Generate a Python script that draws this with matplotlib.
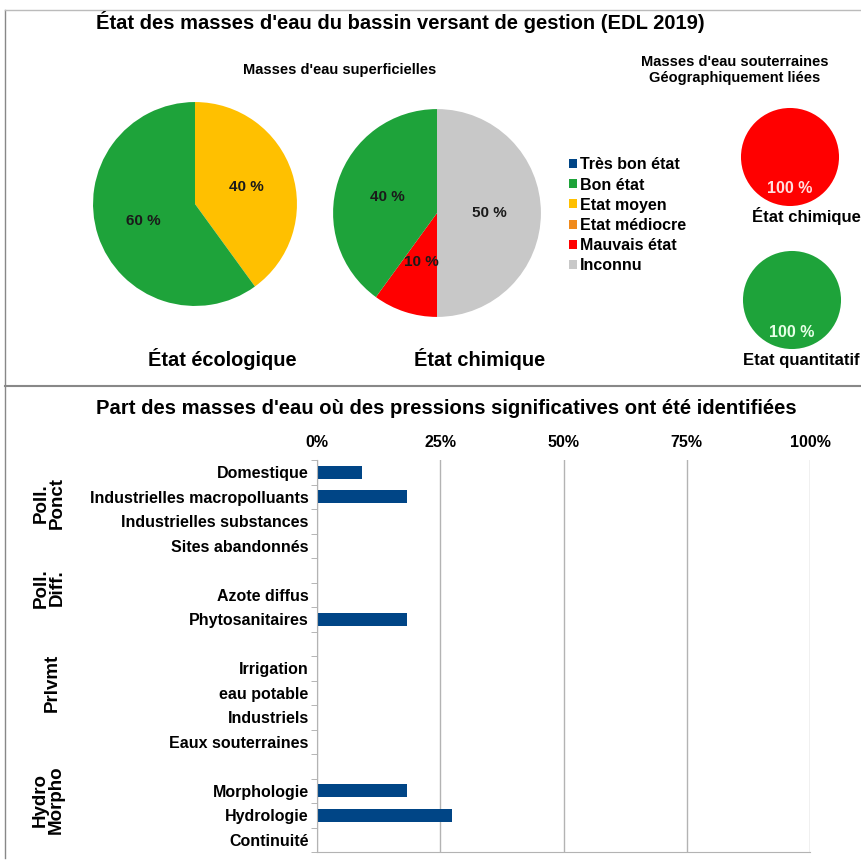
import numpy as np
import matplotlib.pyplot as plt
from matplotlib.patches import Patch
from matplotlib.lines import Line2D

plt.rcParams['font.family'] = ['Liberation Sans', 'DejaVu Sans']
plt.rcParams['font.weight'] = 'bold'

# --- data ---
etat_labels = ['Très bon état', 'Bon état', 'Etat moyen', 'Etat médiocre', 'Mauvais état', 'Inconnu']
etat_colors = ['#004586', '#1ea33a', '#ffc000', '#f08a1c', '#ff0000', '#c8c8c8']

# pies are listed clockwise from 12 o'clock
eco_values = [40, 60]
eco_states = ['Etat moyen', 'Bon état']
chim_values = [50, 10, 40]
chim_states = ['Inconnu', 'Mauvais état', 'Bon état']
sout_chim_values = [100]
sout_chim_states = ['Mauvais état']
sout_quant_values = [100]
sout_quant_states = ['Bon état']

# empty strings are the gaps between groups
pressions = ['Domestique', 'Industrielles macropolluants', 'Industrielles substances',
             'Sites abandonnés', '', 'Azote diffus', 'Phytosanitaires', '',
             'Irrigation', 'eau potable', 'Industriels', 'Eaux souterraines', '',
             'Morphologie', 'Hydrologie', 'Continuité']
pression_values = [9.1, 18.2, 0, 0, 0, 0, 18.2, 0, 0, 0, 0, 0, 0, 18.2, 27.3, 0]
groups = ['Poll.\nPonct', 'Poll.\nDiff.', 'Prlvmt', 'Hydro\nMorpho']

W, H = 862, 861
fig = plt.figure(figsize=(W / 100, H / 100), dpi=100)
col = dict(zip(etat_labels, etat_colors))


def box(x0, y0, x1, y1):
    # pixel box (top-left origin) -> figure fraction rect
    return [x0 / W, 1 - y1 / H, (x1 - x0) / W, (y1 - y0) / H]


def pie(rect, values, states, pct_col='#1a1a1a', pctd=0.5, fs=11):
    ax = fig.add_axes(rect)
    wedges, texts, autotexts = ax.pie(values, colors=[col[s] for s in states], startangle=90,
                                      counterclock=False, autopct='%d %%', pctdistance=pctd,
                                      wedgeprops=dict(linewidth=0))
    for t in autotexts:
        t.set_color(pct_col)
        t.set_fontsize(fs)
        t.set_fontweight('bold')
    ax.set_xlim(-1.02, 1.02)
    ax.set_ylim(-1.02, 1.02)
    ax.set_aspect('equal')
    ax.axis('off')
    return autotexts


pie(box(91, 100, 299, 308), eco_values, eco_states, pctd=0.53)
pie(box(331, 107, 543, 319), chim_values, chim_states, pctd=0.5)
pie(box(740, 107, 840, 207), sout_chim_values, sout_chim_states, pct_col='#ffdede', pctd=0.64, fs=11.5)
pie(box(742, 250, 842, 350), sout_quant_values, sout_quant_states, pct_col='#e6ffe6', pctd=0.66, fs=11.5)

# titles
fig.text(400 / W, 1 - 22 / H, "État des masses d'eau du bassin versant de gestion (EDL 2019)",
         ha='center', va='center', fontsize=14.5, fontweight='bold')
fig.text(340 / W, 1 - 70 / H, "Masses d'eau superficielles", ha='center', va='center', fontsize=10.5)
fig.text(735 / W, 1 - 70 / H, "Masses d'eau souterraines\nGéographiquement liées",
         ha='center', va='center', fontsize=10.5, linespacing=1.25)
fig.text(222 / W, 1 - 359 / H, "État écologique", ha='center', va='center', fontsize=14.4)
fig.text(480 / W, 1 - 359 / H, "État chimique", ha='center', va='center', fontsize=14.4)
fig.text(806 / W, 1 - 216 / H, "État chimique", ha='center', va='center', fontsize=12)
fig.text(743 / W, 1 - 360 / H, "Etat quantitatif", ha='left', va='center', fontsize=12)

handles = [Patch(facecolor=c, edgecolor='none') for c in etat_colors]
fig.legend(handles, etat_labels, loc='upper left', bbox_to_anchor=(563 / W, 1 - 151 / H),
           frameon=False, handlelength=0.5, handleheight=0.5, handletextpad=0.15,
           labelspacing=0.32, prop=dict(size=11.5, weight='bold'), borderaxespad=0)

# frame and divider
fig.add_artist(Line2D([5 / W, 5 / W], [1 - 10 / H, 1 - 858 / H], color='#888888', lw=1))
fig.add_artist(Line2D([5 / W, 1], [1 - 10 / H, 1 - 10 / H], color='#bbbbbb', lw=1))
fig.add_artist(Line2D([5 / W, 1], [1 - 386 / H, 1 - 386 / H], color='#888888', lw=1.5))

# --- bar chart ---
fig.text(446 / W, 1 - 408 / H, "Part des masses d'eau où des pressions significatives ont été identifiées",
         ha='center', va='center', fontsize=14.6)
ax = fig.add_axes(box(317, 460, 810, 852))
rows = np.arange(len(pressions))
ax.barh(rows, pression_values, height=0.55, color='#004586')
ax.set_ylim(len(pressions) - 0.5, -0.5)
ax.set_xlim(0, 100)
ax.set_yticks(rows)
ax.set_yticklabels(pressions, fontsize=11.5)
ax.set_yticks(np.arange(-0.5, len(pressions), 1), minor=True)
ax.tick_params(axis='y', which='major', length=0, pad=6)
ax.tick_params(axis='y', which='minor', length=4, color='#aaaaaa')
ax.xaxis.tick_top()
ax.set_xticks([0, 25, 50, 75, 100])
ax.set_xticklabels(['0%', '25%', '50%', '75%', '100%'], fontsize=11.5)
ax.tick_params(axis='x', length=0, pad=7)
ax.grid(axis='x', color='#b3b3b3', lw=1)
ax.set_axisbelow(True)
for s in ['top', 'right']:
    ax.spines[s].set_visible(False)
for s in ['left', 'bottom']:
    ax.spines[s].set_color('#b3b3b3')

group_y = [503, 588, 683, 800]
group_x = [49, 49, 52, 48]
for g, gx, gy in zip(groups, group_x, group_y):
    fig.text(gx / W, 1 - gy / H, g, rotation=90, ha='center', va='center', fontsize=13.5,
             linespacing=0.95)

fig.savefig('out.png', dpi=100)
